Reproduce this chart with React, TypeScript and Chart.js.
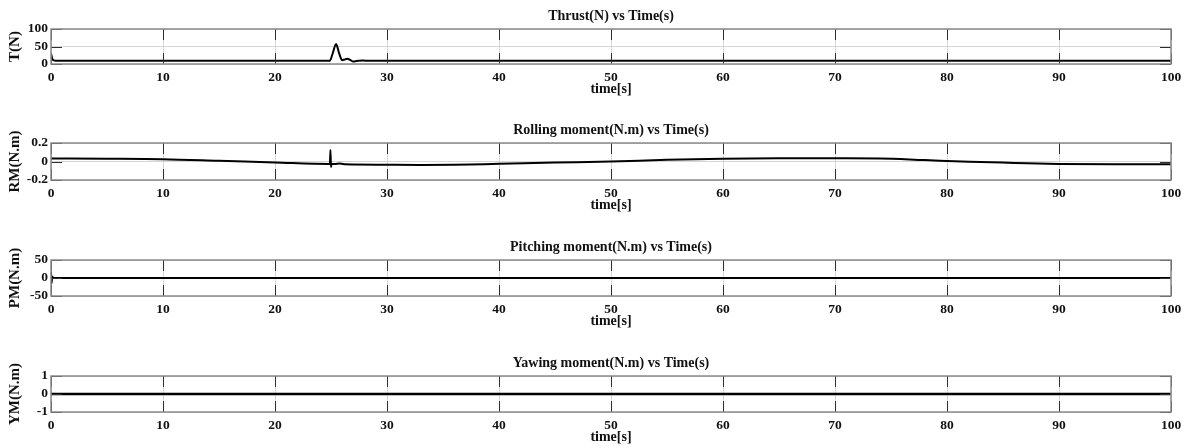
import React, { useEffect, useRef } from "react";
import { Chart, registerables } from "chart.js";
Chart.register(...registerables);

// ---- data ----
const timeThrust = [0, 0.15, 0.4, 24.9, 25.15, 25.45, 25.75, 26.0, 26.2, 26.45, 26.7, 26.95, 27.3, 27.8, 28.5, 29.5, 100];
const thrust = [30, 12, 9.5, 9.5, 30, 57, 28, 11, 12.5, 15, 12, 7.5, 8.5, 9.8, 9, 9.5, 9.5];

const timeRoll = [0, 5, 10, 15, 20, 24.9, 24.95, 25.0, 25.05, 25.3, 25.8, 26.3, 27, 30, 33, 36, 40, 45, 50, 55, 60, 65, 70, 74, 78, 82, 86, 90, 95, 100];
const rolling = [0.032, 0.03, 0.025, 0.008, -0.01, -0.026, 0.125, -0.06, -0.026, -0.028, -0.022, -0.03, -0.032, -0.035, -0.037, -0.035, -0.025, -0.012, 0.0, 0.018, 0.03, 0.035, 0.035, 0.033, 0.015, -0.003, -0.015, -0.026, -0.031, -0.03];

const timePitch = [0, 0.05, 0.1, 0.2, 100];
const pitching = [17, -15, 4, 0, 0];

const timeYaw = [0, 100];
const yawing = [0, 0];

const xTicks = [0, 10, 20, 30, 40, 50, 60, 70, 80, 90, 100];
const thrustTicks = [0, 50, 100];
const rollTicks = [-0.2, 0, 0.2];
const pitchTicks = [-50, 0, 50];
const yawTicks = [-1, 0, 1];

const titles = [
  "Thrust(N) vs Time(s)",
  "Rolling moment(N.m) vs Time(s)",
  "Pitching moment(N.m) vs Time(s)",
  "Yawing moment(N.m) vs Time(s)",
];
const yLabels = ["T(N)", "RM(N.m)", "PM(N.m)", "YM(N.m)"];
const xLabel = "time[s]";

// ---- layout / style ----
const FONT = '"Liberation Serif", "Times New Roman", serif';
const W = 1187;
const TITLE_BOX = 24;
const XAXIS_H = 34;

const panels = [
  { times: timeThrust, values: thrust, yt: thrustTicks, plotTop: 29, plotH: 35, lw: 2 },
  { times: timeRoll, values: rolling, yt: rollTicks, plotTop: 143, plotH: 37, lw: 2 },
  { times: timePitch, values: pitching, yt: pitchTicks, plotTop: 260, plotH: 36, lw: 2 },
  { times: timeYaw, values: yawing, yt: yawTicks, plotTop: 376, plotH: 36, lw: 2.6 },
];

const boxAndTicks = {
  id: "boxAndTicks",
  afterDatasetsDraw(chart: any) {
    const { ctx, chartArea: a, scales } = chart;
    const L = 11;
    ctx.save();
    ctx.strokeStyle = "#2e2e2e";
    ctx.lineWidth = 1;
    ctx.beginPath();
    scales.x.ticks.forEach((t: any) => {
      const px = Math.round(scales.x.getPixelForValue(t.value)) + 0.5;
      ctx.moveTo(px, a.top);
      ctx.lineTo(px, a.top + L);
      ctx.moveTo(px, a.bottom);
      ctx.lineTo(px, a.bottom - L);
    });
    scales.y.ticks.forEach((t: any) => {
      const py = Math.round(scales.y.getPixelForValue(t.value)) + 0.5;
      ctx.moveTo(a.left, py);
      ctx.lineTo(a.left + L, py);
      ctx.moveTo(a.right, py);
      ctx.lineTo(a.right - L, py);
    });
    ctx.stroke();
    ctx.strokeStyle = "#8a8a8a";
    ctx.lineWidth = 1.5;
    ctx.strokeRect(a.left, a.top, a.right - a.left, a.bottom - a.top);
    ctx.restore();
  },
};

function Panel({ idx }: { idx: number }) {
  const ref = useRef<HTMLCanvasElement | null>(null);
  const p = panels[idx];
  const height = TITLE_BOX + p.plotH + XAXIS_H;
  useEffect(() => {
    if (!ref.current) return;
    const data = p.times.map((t, i) => ({ x: t, y: p.values[i] }));
    const chart = new Chart(ref.current, {
      type: "line",
      data: {
        datasets: [
          {
            data,
            borderColor: "#000",
            borderWidth: p.lw,
            pointRadius: 0,
            fill: false,
            cubicInterpolationMode: "monotone",
          },
        ],
      },
      options: {
        responsive: false,
        animation: false,
        layout: { padding: { left: 0, right: 16, top: 0, bottom: 0 } },
        plugins: {
          legend: { display: false },
          tooltip: { enabled: false },
          title: {
            display: true,
            text: titles[idx],
            fullSize: false,
            color: "#111",
            font: { family: FONT, size: 14, weight: "bold", lineHeight: 1.2 },
            padding: { top: 2.6, bottom: 4.6 },
          },
        },
        scales: {
          x: {
            type: "linear",
            min: 0,
            max: 100,
            afterBuildTicks: (s: any) => {
              s.ticks = xTicks.map((v) => ({ value: v }));
            },
            afterFit: (s: any) => {
              s.height = XAXIS_H;
            },
            grid: { color: "#d6d6d6", drawTicks: false },
            border: { display: false },
            ticks: {
              padding: 5,
              maxRotation: 0,
              autoSkip: false,
              color: "#111",
              font: { family: FONT, size: 13.5, weight: "bold", lineHeight: 1.2 },
              callback: (v: any) => String(v),
            },
            title: {
              display: true,
              text: xLabel,
              color: "#111",
              font: { family: FONT, size: 14, weight: "bold", lineHeight: 1.2 },
              padding: { top: 0, bottom: 0 },
            },
          },
          y: {
            type: "linear",
            min: p.yt[0],
            max: p.yt[p.yt.length - 1],
            afterBuildTicks: (s: any) => {
              s.ticks = p.yt.map((v) => ({ value: v }));
            },
            afterFit: (s: any) => {
              s.width = 51;
            },
            grid: { color: "#d6d6d6", drawTicks: false },
            border: { display: false },
            ticks: {
              padding: 3,
              autoSkip: false,
              color: "#111",
              font: { family: FONT, size: 13.5, weight: "bold", lineHeight: 1 },
              callback: (v: any) => String(v),
            },
            title: {
              display: true,
              text: yLabels[idx],
              color: "#111",
              font: { family: FONT, size: 15, weight: "bold", lineHeight: 1.2 },
              padding: { top: 6, bottom: 0 },
            },
          },
        },
      },
      plugins: [boxAndTicks],
    } as any);
    return () => chart.destroy();
  }, []);
  return (
    <canvas
      ref={ref}
      width={W}
      height={height}
      style={{ position: "absolute", left: 0, top: p.plotTop - TITLE_BOX, width: W, height }}
    />
  );
}

export default function App() {
  return (
    <div style={{ position: "absolute", left: 0, top: 0, width: W, height: 448, background: "#fff" }}>
      {panels.map((_, i) => (
        <Panel key={i} idx={i} />
      ))}
    </div>
  );
}
